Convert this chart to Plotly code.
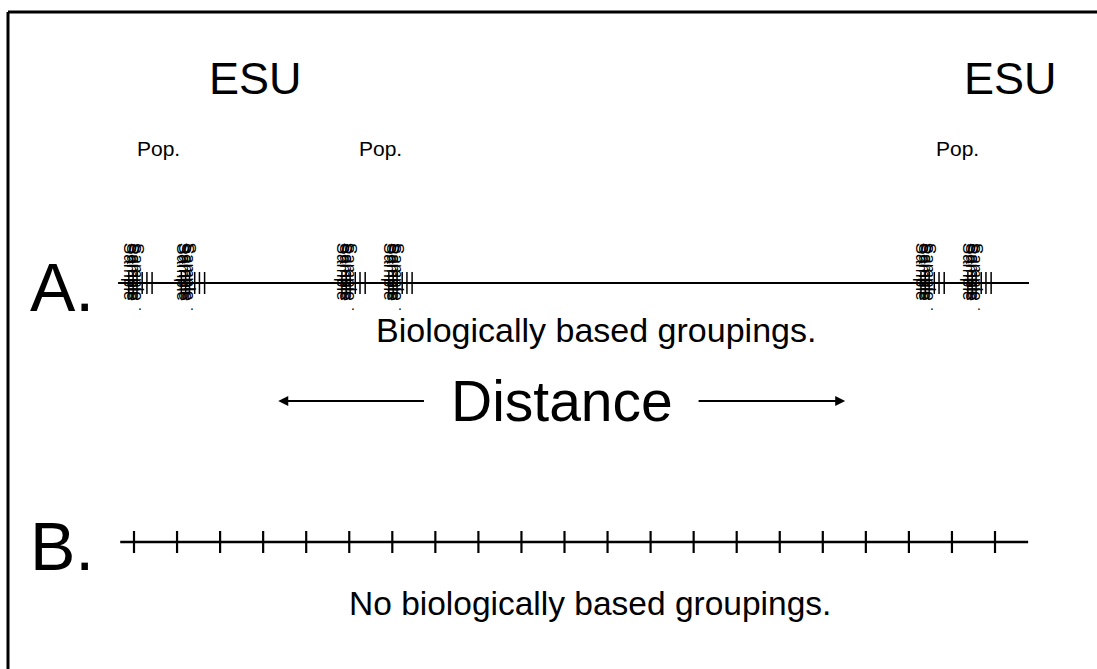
import plotly.graph_objects as go

# ---- data (distance units; line B ticks are unit steps) ----
b_ticks = list(range(21))                      # evenly spaced, no groupings
line_a_extent = [-0.37, 20.79]
line_b_extent = [-0.32, 20.77]
# sample positions along line A, grouped into populations
cluster_centers = [0.0, 1.22, 4.95, 6.04, 18.40, 19.49]
sample_offsets = [-0.12, -0.02, 0.07, 0.19, 0.30, 0.42]
label_offsets = [-0.09, -0.03, 0.03, 0.09]
esu_x = [2.82, 20.35]
pop_x = [0.56, 5.72, 19.14]

# ---- layout helpers ----
PX = 43.05           # pixels per distance unit
X0 = 134             # pixel of distance 0
W, H = 1097, 669
xr = [-X0 / PX, (W - X0) / PX]
ya, yb = 283, 542    # row positions (rows measured from top)

fig = go.Figure()

# main lines
fig.add_trace(go.Scatter(x=line_a_extent, y=[ya, ya], mode="lines",
                         line=dict(color="black", width=2), hoverinfo="skip"))
fig.add_trace(go.Scatter(x=line_b_extent, y=[yb, yb], mode="lines",
                         line=dict(color="black", width=2.5), hoverinfo="skip"))

# B ticks
bx, by = [], []
for t in b_ticks:
    bx += [t, t, None]
    by += [yb - 11, yb + 11, None]
fig.add_trace(go.Scatter(x=bx, y=by, mode="lines",
                         line=dict(color="black", width=2.2), hoverinfo="skip"))

# A sample ticks
ax_, ay_ = [], []
for c in cluster_centers:
    for o in sample_offsets:
        ax_ += [c + o, c + o, None]
        ay_ += [ya - 11, ya + 11, None]
fig.add_trace(go.Scatter(x=ax_, y=ay_, mode="lines",
                         line=dict(color="black", width=1.5), hoverinfo="skip"))

ann = []
font = "Liberation Sans, Arial, sans-serif"
for c in cluster_centers:
    for o in label_offsets:
        ann.append(dict(x=c + o, y=ya - 11, text="Sample", textangle=90,
                        showarrow=False, font=dict(family=font, size=17, color="black")))
    ann.append(dict(x=c + 0.13, y=ya + 22, text=".", showarrow=False,
                    font=dict(family=font, size=14, color="black")))

for x in esu_x:
    ann.append(dict(x=x, y=78, text="ESU", showarrow=False,
                    font=dict(family=font, size=45, color="black")))
for x in pop_x:
    ann.append(dict(x=x, y=148, text="Pop.", showarrow=False,
                    font=dict(family=font, size=21, color="black")))

ann.append(dict(x=-1.67, y=ya + 4, text="A.", showarrow=False,
                font=dict(family=font, size=68, color="black")))
ann.append(dict(x=-1.67, y=yb + 4, text="B.", showarrow=False,
                font=dict(family=font, size=68, color="black")))
ann.append(dict(x=10.72, y=330, text="Biologically based groupings.", showarrow=False,
                font=dict(family=font, size=34, color="black")))
ann.append(dict(x=10.6, y=603, text="No biologically based groupings.", showarrow=False,
                font=dict(family=font, size=33.5, color="black")))
ann.append(dict(x=9.95, y=401, text="Distance", showarrow=False,
                font=dict(family=font, size=57, color="black")))
# arrows
ann.append(dict(x=3.35, y=401, ax=6.77, ay=401, axref="x", ayref="y", xref="x", yref="y",
                text="", showarrow=True, arrowhead=2, arrowsize=1, arrowwidth=2,
                arrowcolor="black"))
ann.append(dict(x=16.52, y=401, ax=13.08, ay=401, axref="x", ayref="y", xref="x", yref="y",
                text="", showarrow=True, arrowhead=2, arrowsize=1, arrowwidth=2,
                arrowcolor="black"))

# frame (top and left edges visible)
shapes = [
    dict(type="line", xref="paper", yref="paper", x0=8 / W, x1=1.02, y0=1 - 12 / H, y1=1 - 12 / H,
         line=dict(color="black", width=3)),
    dict(type="line", xref="paper", yref="paper", x0=8 / W, x1=8 / W, y0=-0.02, y1=1 - 12 / H,
         line=dict(color="black", width=3)),
]

fig.update_layout(
    width=W, height=H, margin=dict(l=0, r=0, t=0, b=0),
    paper_bgcolor="white", plot_bgcolor="white", showlegend=False,
    xaxis=dict(range=xr, visible=False, fixedrange=True),
    yaxis=dict(range=[H, 0], visible=False, fixedrange=True),
    annotations=ann, shapes=shapes,
)
fig.write_html("out.html", config={"displayModeBar": False},
               post_script="document.body.style.margin='0';document.body.style.overflow='hidden';")
